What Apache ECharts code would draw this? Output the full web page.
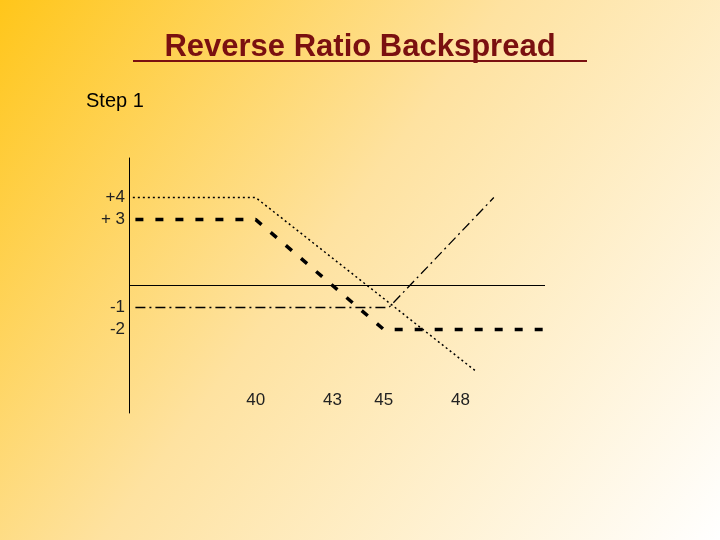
<!DOCTYPE html>
<html><head><meta charset="utf-8">
<script src="https://cdn.jsdelivr.net/npm/echarts@6/dist/echarts.min.js"></script>
<style>html,body{margin:0;padding:0}#c{width:720px;height:540px}</style>
</head><body><div id="c"></div>
<script>
const titleText = 'Reverse Ratio Backspread';
const subText = 'Step 1';
const xTicks = [40, 43, 45, 48];
const yTicks = [4, 3, -1, -2];
const yTickLabels = {'4': '+4', '3': '+ 3', '-1': '-1', '-2': '-2'};
const dottedLine = [[35.2, 4], [40, 4], [48.6, -3.9]];
const dashedLine = [[35.3, 3], [40, 3], [45, -2], [51.3, -2]];
const dashDotLine = [[35.3, -1], [45.2, -1], [49.3, 4]];
const zeroLine = [[35.05, 0], [51.3, 0]];

const chart = echarts.init(document.getElementById('c'));
const base = {type: 'line', symbol: 'none', silent: true, lineStyle: {color: '#000'}};
chart.setOption({
  backgroundColor: new echarts.graphic.LinearGradient(0, 0, 1, 1, [
    {offset: 0, color: '#FFC61A'}, {offset: 0.45, color: '#FEE2A0'}, {offset: 1, color: '#FFFFFF'}]),
  animation: false,
  title: {text: titleText, left: 'center', top: 27,
    textStyle: {fontFamily: 'Liberation Sans', fontSize: 31, fontWeight: 'bold', color: '#7A1010'}},
  graphic: [
    {type: 'line', shape: {x1: 133, y1: 61, x2: 587, y2: 61}, style: {stroke: '#7A1010', lineWidth: 2}},
    {type: 'text', left: 86, top: 91, style: {text: subText, font: '20px "Liberation Sans"', fill: '#000'}}
  ],
  grid: {left: 129, right: 175, top: 158, bottom: 127},
  xAxis: {type: 'value', min: 35.05, max: 51.3, axisLine: {show: false}, axisTick: {show: false},
    splitLine: {show: false},
    axisLabel: {customValues: xTicks, inside: true, margin: 4, fontFamily: 'Liberation Sans', fontSize: 17, color: '#222'}},
  yAxis: {type: 'value', min: -5.8, max: 5.8, axisLine: {show: true, onZero: false, lineStyle: {color: '#000', width: 1}},
    axisTick: {show: false}, splitLine: {show: false},
    axisLabel: {customValues: yTicks, margin: 4, fontFamily: 'Liberation Sans', fontSize: 17, color: '#222',
      formatter: v => yTickLabels[String(v)]}},
  series: [
    Object.assign({}, base, {data: zeroLine, lineStyle: {color: '#000', width: 1}}),
    Object.assign({}, base, {data: dottedLine, lineStyle: {color: '#000', width: 1.5, type: [2, 3]}}),
    Object.assign({}, base, {data: dashedLine, lineStyle: {color: '#000', width: 3.5, type: [8, 12]}}),
    Object.assign({}, base, {data: dashDotLine, lineStyle: {color: '#000', width: 1.3, type: [10, 4, 2, 4]}})
  ]
});
</script></body></html>
